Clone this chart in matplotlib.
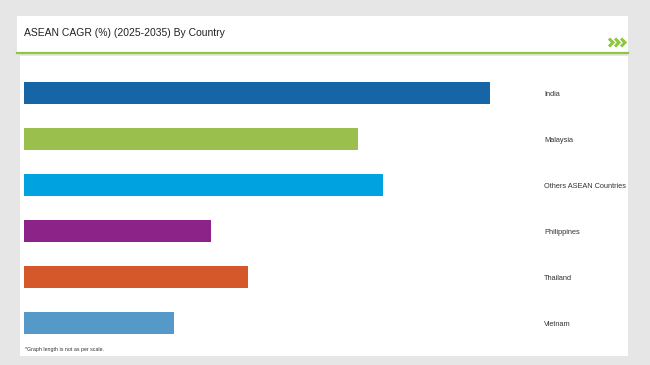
import matplotlib
matplotlib.use("Agg")
import matplotlib.pyplot as plt
from matplotlib.patches import Rectangle
from matplotlib.lines import Line2D
import matplotlib.transforms as mtransforms

countries = ["India", "Malaysia", "Others ASEAN Countries", "Philippines", "Thailand", "Vietnam"]
cagr = [6.23, 4.47, 4.8, 2.5, 3.0, 2.0]
colors = ["#1565a7", "#9bbf4d", "#00a3e0", "#8b2388", "#d4582a", "#5499c7"]
title = "ASEAN CAGR (%) (2025-2035) By Country"
footnote = "*Graph length is not as per scale."

W, H = 650, 365
plt.rcParams['font.family'] = ['Liberation Sans', 'DejaVu Sans']
fig = plt.figure(figsize=(W / 100, H / 100), dpi=100)
fig.patch.set_facecolor("#e6e6e6")

def fx(px):
    return px / W

def fy(py):
    return 1 - py / H

# title panel
fig.patches.append(Rectangle((fx(17), fy(52)), fx(628 - 17), (52 - 16) / H,
                             transform=fig.transFigure, facecolor="white", edgecolor="none", zorder=-10))
# main panel
fig.patches.append(Rectangle((fx(20), fy(356)), fx(628 - 20), (356 - 56) / H,
                             transform=fig.transFigure, facecolor="white", edgecolor="none", zorder=-10))
# green rule
fig.lines.append(Line2D([fx(17), fx(628)], [fy(52.5), fy(52.5)], transform=fig.transFigure,
                        color="#8dc63f", linewidth=1.6, zorder=-5))
fig.text(fx(24), fy(33), title, fontsize=7.5, color="#222222", va="center", ha="left")
# chevron icon
for cx in (609, 615, 621):
    fig.lines.append(Line2D([fx(cx), fx(cx + 4), fx(cx)], [fy(38.5), fy(42.5), fy(46.5)],
                            transform=fig.transFigure, color="#8dc63f", linewidth=2.2,
                            solid_joinstyle="miter", solid_capstyle="butt"))
fig.text(fx(25), fy(350), footnote, fontsize=3.8, color="#333333", va="center", ha="left")

ax = fig.add_axes([fx(24), fy(346), fx(540 - 24), (346 - 70) / H])
ax.set_facecolor("none")
ax.set_zorder(5)
ypos = list(range(len(countries)))
ax.barh(ypos, cagr, height=0.46, color=colors, edgecolor="none")
ax.set_xlim(0, (540 - 24) / 74.8)
ax.set_ylim(len(countries) - 0.5, -0.5)
ax.axis("off")

trans = mtransforms.blended_transform_factory(fig.transFigure, ax.transData)
for i, name in enumerate(countries):
    ax.text(fx(544), i + 0.03, name, transform=trans, fontsize=5.3, color="#333333",
            va="center", ha="left", clip_on=False)

fig.savefig("out.png", dpi=100, facecolor=fig.get_facecolor())
